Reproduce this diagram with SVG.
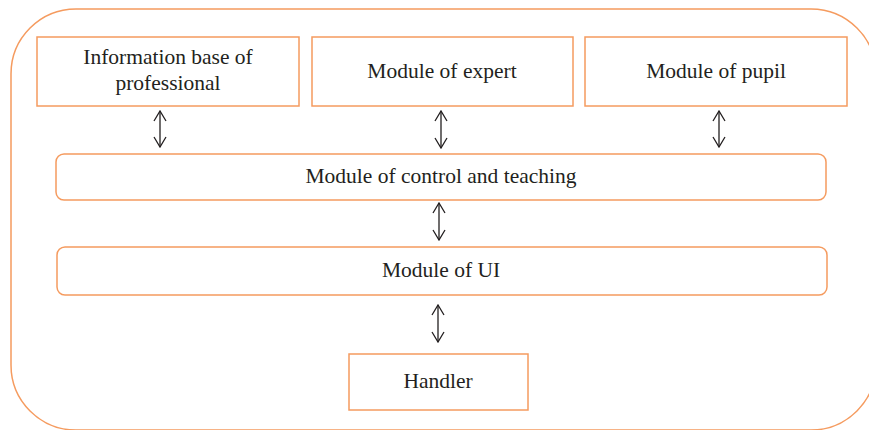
<svg xmlns="http://www.w3.org/2000/svg" width="869" height="430" viewBox="0 0 869 430">
<style>
.box{fill:#fff;stroke:#f59b5f;stroke-width:1.5}
.outer{fill:none;stroke:#f59b5f;stroke-width:1.5}
.t{font-family:"Liberation Serif","Times New Roman",serif;font-size:21.5px;fill:#231f20;text-anchor:middle}
.c{stroke:#231f20;stroke-width:1.3;fill:none;marker-start:url(#ah);marker-end:url(#ah)}
</style>
<defs>
<marker id="ah" viewBox="0 0 12 14" refX="11" refY="7" markerWidth="12" markerHeight="14" markerUnits="userSpaceOnUse" orient="auto-start-reverse">
<path d="M1,1 L11,7 L1,13" fill="none" stroke="#231f20" stroke-width="1.3"/>
</marker>
</defs>
<rect class="outer" x="11" y="9" width="865" height="421" rx="65" ry="65"/>
<g id="info"><rect class="box" x="37" y="37" width="262" height="69"/><text class="t" x="168" y="64">Information base of</text><text class="t" x="168" y="90">professional</text></g>
<g id="expert"><rect class="box" x="312" y="37" width="261" height="69"/><text class="t" x="442" y="78">Module of expert</text></g>
<g id="pupil"><rect class="box" x="585" y="37" width="262" height="69"/><text class="t" x="716" y="78">Module of pupil</text></g>
<g id="control"><rect class="box" x="56" y="154" width="770" height="46" rx="8"/><text class="t" x="441" y="183">Module of control and teaching</text></g>
<g id="ui"><rect class="box" x="57" y="247" width="770" height="48" rx="8"/><text class="t" x="441" y="277">Module of UI</text></g>
<g id="handler"><rect class="box" x="349" y="354" width="179" height="56"/><text class="t" x="438" y="388">Handler</text></g>
<g id="connectors">
<line class="c" x1="160" y1="111" x2="160" y2="147"/>
<line class="c" x1="441" y1="111" x2="441" y2="148"/>
<line class="c" x1="719" y1="111" x2="719" y2="147"/>
<line class="c" x1="439" y1="203" x2="439" y2="240"/>
<line class="c" x1="438" y1="305" x2="438" y2="342"/>
</g>
</svg>
